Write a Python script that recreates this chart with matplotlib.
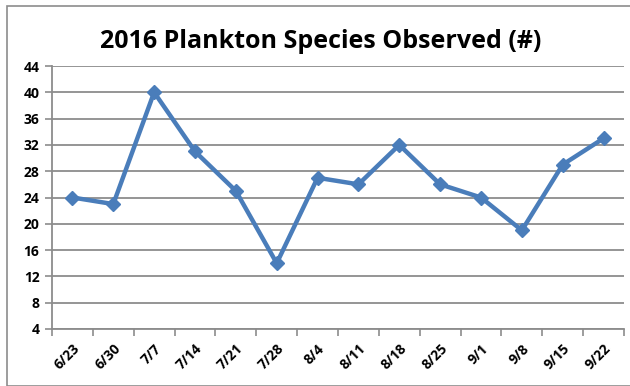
import matplotlib
matplotlib.use("Agg")
import matplotlib.pyplot as plt
from matplotlib.patches import Rectangle
import numpy as np

dates = ["6/23", "6/30", "7/7", "7/14", "7/21", "7/28", "8/4", "8/11",
         "8/18", "8/25", "9/1", "9/8", "9/15", "9/22"]
species = [24, 23, 40, 31, 25, 14, 27, 26, 32, 26, 24, 19, 29, 33]
yticks = [4, 8, 12, 16, 20, 24, 28, 32, 36, 40, 44]

W, H = 630, 386
fig = plt.figure(figsize=(W / 100, H / 100), dpi=100)
plt.rcParams["font.family"] = ["Open Sans", "DejaVu Sans"]

# chart frame (only top and left edges fall inside the canvas)
fig.patches.append(Rectangle((7 / W, 0), 1.0, 1 - 6 / H, transform=fig.transFigure,
                             fill=False, edgecolor="#8c8c8c", linewidth=1.2))

ax = fig.add_axes([52 / W, 1 - 329 / H, (624 - 52) / W, (329 - 66) / H])
x = np.arange(len(dates))
ax.plot(x, species, color="#4a7dba", linewidth=3.2, marker="D", markersize=7,
        zorder=3)

ax.set_xlim(-0.5, len(dates) - 0.5)
ax.set_ylim(4, 44)
ax.set_yticks(yticks)
ax.set_yticklabels([str(v) for v in yticks], fontsize=10, fontweight="bold")
ax.yaxis.grid(True, color="#8c8c8c", linewidth=1.3)
ax.set_axisbelow(True)

# category ticks sit between the dates, labels at the centres
ax.set_xticks(np.arange(len(dates) + 1) - 0.5)
ax.set_xticklabels([])
ax.set_xticks(x, minor=True)
ax.set_xticklabels(dates, minor=True, rotation=45, fontsize=10, fontweight="bold",
                   ha="right", va="top", rotation_mode="anchor")
ax.tick_params(axis="x", which="minor", length=0, pad=9)
ax.tick_params(axis="x", which="major", length=5, color="#8c8c8c", width=1.2)
ax.tick_params(axis="y", length=5, color="#8c8c8c", width=1.2, pad=4)

for side in ["top", "right"]:
    ax.spines[side].set_visible(False)
for side in ["left", "bottom"]:
    ax.spines[side].set_color("#8c8c8c")
    ax.spines[side].set_linewidth(1.3)

fig.text(321 / W, 1 - 42 / H, "2016 Plankton Species Observed (#)",
         ha="center", va="center", fontsize=18, fontweight="bold")

fig.savefig("out.png", dpi=100)
